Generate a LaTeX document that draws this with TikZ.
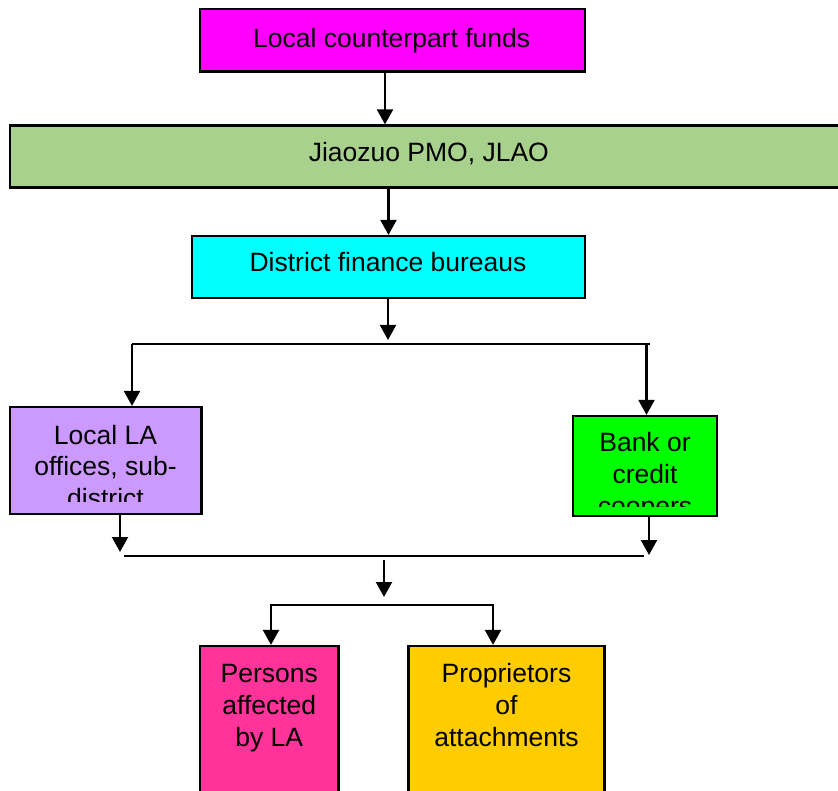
\documentclass[tikz,border=0pt]{standalone}
\usepackage{fontspec}
\setmainfont{Liberation Sans}
\usetikzlibrary{arrows.meta}
\definecolor{cMag}{HTML}{FF00FF}
\definecolor{cPmo}{HTML}{A9D18E}
\definecolor{cCyan}{HTML}{00FFFF}
\definecolor{cLav}{HTML}{CC99FF}
\definecolor{cGreen}{HTML}{00FF00}
\definecolor{cPink}{HTML}{FF3399}
\definecolor{cGold}{HTML}{FFCC00}
\begin{document}
\begin{tikzpicture}[x=1pt,y=-1pt,
  box/.style={draw=black,line width=2.2pt,inner sep=0pt,rectangle},
  txt/.style={inner sep=0pt,align=center,font=\fontsize{26.5pt}{31.7pt}\selectfont,anchor=north},
  arr/.style={line width=2.2pt,-{Triangle[width=16pt,length=15pt]}},
  bus/.style={line width=2.2pt}]
\useasboundingbox (0,0) rectangle (838,791);
\clip (0,0) rectangle (838,791);
% boxes
\node[box,fill=cMag,minimum width=385pt,minimum height=62.5pt] (funds) at (392.5,40.25) {};
\node[box,fill=cPmo,minimum width=860pt,minimum height=62pt] (pmo) at (440,156.5) {};
\node[box,fill=cCyan,minimum width=393pt,minimum height=62pt] (dist) at (388.5,267) {};
\node[box,fill=cLav,minimum width=191.5pt,minimum height=107pt] (la) at (105.75,460.5) {};
\node[box,fill=cGreen,minimum width=144pt,minimum height=100pt] (bank) at (645,466) {};
\node[box,fill=cPink,minimum width=138.5pt,minimum height=174pt] (pers) at (269.25,733) {};
\node[box,fill=cGold,minimum width=196pt,minimum height=174pt] (prop) at (506.5,733) {};
% texts
\node[txt] (fundsT) at (391.7,24.81) {\strut Local counterpart funds};
\node[txt] (pmoT) at (428.8,139.51) {\strut Jiaozuo PMO, JLAO};
\node[txt] (distT) at (388,249.51) {\strut District finance bureaus};
\begin{scope}
  \clip (11,408) rectangle (200.5,501);
  \node[txt] (laT) at (105.5,421.81) {\strut Local LA\hspace{7.4pt}\\offices, sub-\\district};
\end{scope}
\begin{scope}
  \clip (574,417) rectangle (716,506);
  \node[txt] (bankT) at (645,429.51) {\strut Bank or\\credit\\coopers};
\end{scope}
\node[txt] (persT) at (269.3,660.51) {\strut Persons\\affected\\by LA};
\node[txt] (propT) at (506.5,660.51) {\strut Proprietors\\of\\attachments};
% bus coordinates
\coordinate (b1L) at (132,344);
\coordinate (b1R) at (646.5,344);
\coordinate (b1E) at (650,344);
\coordinate (b2L) at (124,556);
\coordinate (b2R) at (644,556);
\coordinate (b2C) at (384,560);
\coordinate (b3L) at (271,605);
\coordinate (b3R) at (493,605);
\coordinate (b3T) at (384,597);
\coordinate (d1) at (388,340);
\coordinate (laA) at (120,552);
\coordinate (bankA) at (649,555);
% connectors
\draw[arr] ([xshift=-7.5pt]funds.south) -- ([xshift=-7.5pt]funds.south |- pmo.north);
\draw[arr] (dist.north |- pmo.south) -- (dist.north);
\draw[arr] (d1 |- dist.south) -- (d1);
\draw[bus] (b1L) -- (b1E);
\draw[arr] (b1L) -- (b1L |- la.north);
\draw[arr] (b1R) -- (b1R |- bank.north);
\draw[arr] (laA |- la.south) -- (laA);
\draw[arr] (bankA |- bank.south) -- (bankA);
\draw[bus] (b2L) -- (b2R);
\draw[arr] (b2C) -- (b3T);
\draw[arr] (b3R) -- (b3L) -- (b3L |- pers.north);
\draw[arr] (b3L) -- (b3R) -- (b3R |- prop.north);
\end{tikzpicture}
\end{document}
